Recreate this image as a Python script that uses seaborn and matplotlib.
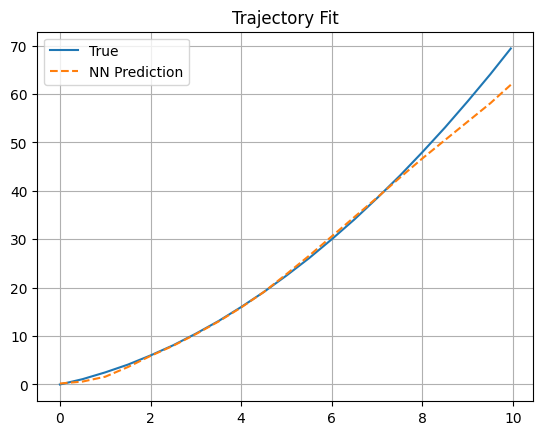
import matplotlib
matplotlib.use("Agg")
import matplotlib.pyplot as plt
import seaborn as sns
import numpy as np

x_vals = [0, 0.5, 1, 1.5, 2, 2.5, 3, 3.5, 4, 4.5, 5, 5.5, 6, 6.5, 7, 7.5, 8, 8.5, 9, 9.5, 9.95]
true_vals = [0.0, 1.1, 2.5, 4.1, 6.0, 8.1, 10.5, 13.1, 16.0, 19.1, 22.5, 26.1, 30.0, 34.1,
             38.5, 43.1, 48.0, 53.1, 58.5, 64.1, 69.4]
nn_vals = [0.2, 0.6, 1.6, 3.6, 5.9, 8.0, 10.4, 13.0, 15.9, 19.1, 22.8, 26.6, 30.6, 34.6,
           38.6, 42.7, 46.7, 50.5, 54.3, 58.1, 61.9]

fig, ax = plt.subplots(figsize=(6.4, 4.8), dpi=100)
sns.lineplot(x=x_vals, y=true_vals, ax=ax, label="True", color="#1f77b4")
sns.lineplot(x=x_vals, y=nn_vals, ax=ax, label="NN Prediction", color="#ff7f0e", linestyle="--")
ax.set_title("Trajectory Fit")
ax.grid(True)
ax.legend(loc="upper left")
fig.savefig("out.png", dpi=100, bbox_inches="tight")
